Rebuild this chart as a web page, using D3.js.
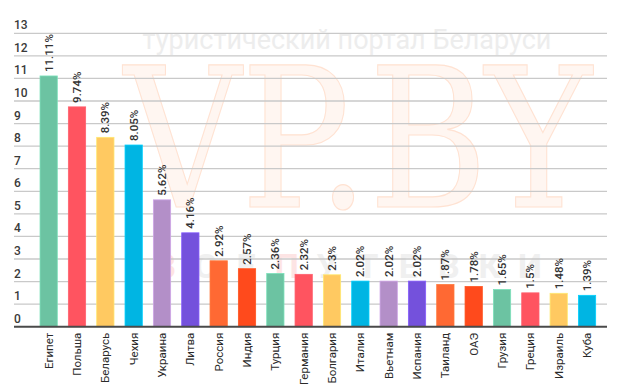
<!DOCTYPE html>
<html>
<head>
<meta charset="utf-8">
<script src="https://cdn.jsdelivr.net/npm/d3@7"></script>
<style>
  body { margin: 0; background: #fff; }
  svg { display: block; font-family: Roboto, "Open Sans", sans-serif; }
</style>
</head>
<body>
<script>
// Страны и их доля (%)
const strany = ["Египет", "Польша", "Беларусь", "Чехия", "Украина", "Литва", "Россия", "Индия",
  "Турция", "Германия", "Болгария", "Италия", "Вьетнам", "Испания", "Таиланд", "ОАЭ",
  "Грузия", "Греция", "Израиль", "Куба"];
const znacheniya = [11.11, 9.74, 8.39, 8.05, 5.62, 4.16, 2.92, 2.57, 2.36, 2.32, 2.3, 2.02,
  2.02, 2.02, 1.87, 1.78, 1.65, 1.5, 1.48, 1.39];
const podpisi = ["11.11%", "9.74%", "8.39%", "8.05%", "5.62%", "4.16%", "2.92%", "2.57%", "2.36%",
  "2.32%", "2.3%", "2.02%", "2.02%", "2.02%", "1.87%", "1.78%", "1.65%", "1.5%", "1.48%", "1.39%"];
const tsveta = ["#6cc3a2", "#ff5460", "#ffc961", "#00b5e3", "#b38fc8", "#7451dc", "#ff6933", "#ff4a1c"];
const deleniya = d3.range(0, 14);

const width = 620, height = 387;

const svg = d3.select("body").append("svg")
  .attr("width", width)
  .attr("height", height);

svg.append("rect").attr("width", width).attr("height", height).attr("fill", "#fff");

// Escalas
const x = d3.scaleBand()
  .domain(strany)
  .range([34.5, 601.2])
  .paddingInner(0.39)
  .paddingOuter(0.195);

const y = d3.scaleLinear()
  .domain([0, 13])
  .range([326.7, 33.3]);

// Водяной знак
const wm = svg.append("g");
wm.append("text")
  .attr("x", 347).attr("y", 49)
  .attr("text-anchor", "middle")
  .attr("font-size", 27)
  .attr("fill", "#ededed")
  .text("туристический портал Беларуси");
wm.append("text")
  .attr("x", 124).attr("y", 207)
  .attr("textLength", 468)
  .attr("lengthAdjust", "spacingAndGlyphs")
  .attr("font-family", "'DejaVu Serif', 'Liberation Serif', serif")
  .attr("font-size", 195)
  .attr("fill", "#fff6f1")
  .attr("stroke", "#ffe2d2")
  .attr("stroke-width", 1.2)
  .text("VP.BY");
const vse = "ВСЕ ПУТЕВКИ".split("").filter(c => c !== " ");
const vseX = d3.scalePoint().domain(d3.range(vse.length)).range([165, 530]);
wm.selectAll(".vse")
  .data(vse)
  .enter().append("text")
  .attr("class", "vse")
  .attr("x", (d, i) => vseX(i))
  .attr("y", 278)
  .attr("text-anchor", "middle")
  .attr("font-size", 34)
  .attr("font-weight", 700)
  .attr("fill", (d, i) => (i === 0 || i === 3) ? "#fde4e4" : "#f0f0f0")
  .text(d => d);

// Сетка
svg.append("g")
  .selectAll("line")
  .data(deleniya.filter(d => d > 0))
  .enter().append("line")
  .attr("x1", 14).attr("x2", 607)
  .attr("y1", d => y(d)).attr("y2", d => y(d))
  .attr("stroke", "#c9c9c9")
  .attr("stroke-width", 1.3);

// Подписи оси Y
svg.append("g")
  .selectAll("text")
  .data(deleniya)
  .enter().append("text")
  .attr("x", 14)
  .attr("y", d => y(d) - 4)
  .attr("font-size", 12)
  .attr("font-weight", 500)
  .attr("fill", "#3a3a3a")
  .text(d => d);

// Столбцы
svg.append("g")
  .selectAll("rect")
  .data(znacheniya)
  .enter().append("rect")
  .attr("x", (d, i) => x(strany[i]))
  .attr("y", d => y(d))
  .attr("width", x.bandwidth())
  .attr("height", d => y(0) - y(d))
  .attr("fill", (d, i) => tsveta[i % tsveta.length])
  .attr("stroke", (d, i) => d3.color(tsveta[i % tsveta.length]).brighter(0.4))
  .attr("stroke-width", 0.8);

// Ось X
svg.append("line")
  .attr("x1", 14).attr("x2", 607)
  .attr("y1", y(0)).attr("y2", y(0))
  .attr("stroke", "#4a4a4a")
  .attr("stroke-width", 2);

// Значения над столбцами
svg.append("g")
  .selectAll("text")
  .data(znacheniya)
  .enter().append("text")
  .attr("transform", (d, i) => `translate(${x(strany[i]) + x.bandwidth() / 2 + 4},${y(d) - 4}) rotate(-90)`)
  .attr("font-size", 11.5)
  .attr("font-weight", 500)
  .attr("fill", "#333")
  .text((d, i) => podpisi[i]);

// Названия стран
svg.append("g")
  .selectAll("text")
  .data(strany)
  .enter().append("text")
  .attr("transform", d => `translate(${x(d) + x.bandwidth() / 2 + 4},${y(0) + 6}) rotate(-90)`)
  .attr("text-anchor", "end")
  .attr("font-size", 11.5)
  .attr("fill", "#2a2a2a")
  .text(d => d);
</script>
</body>
</html>
